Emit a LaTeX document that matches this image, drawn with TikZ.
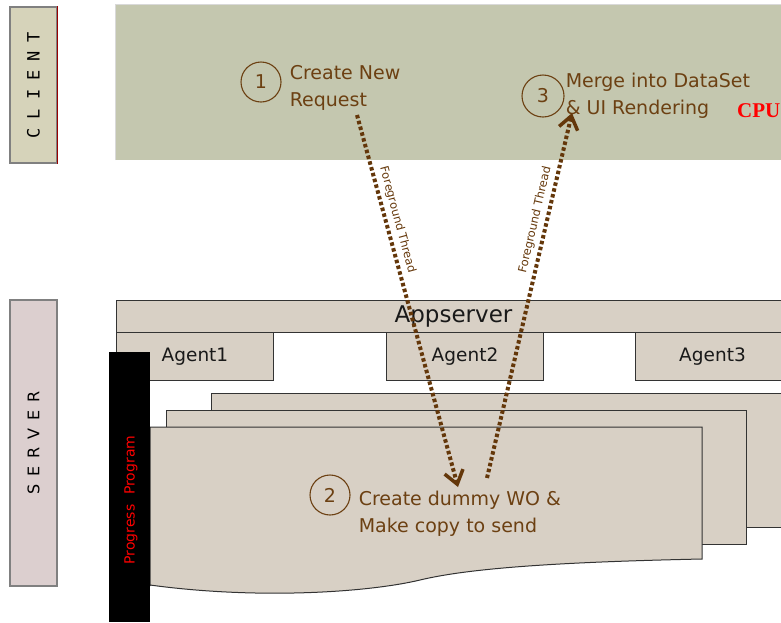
\documentclass[tikz,border=0pt]{standalone}
\usepackage{fontspec}
\setmainfont{DejaVu Sans}
\newfontfamily\clientfont[LetterSpace=53]{DejaVu Sans Mono}
\newfontfamily\serverfont[LetterSpace=50]{DejaVu Sans}
\newfontfamily\cpufont{Liberation Serif}
\usetikzlibrary{arrows.meta, positioning}

\definecolor{clientfill}{RGB}{196,199,175}
\definecolor{clientlabel}{RGB}{214,211,186}
\definecolor{serverlabel}{RGB}{220,207,207}
\definecolor{serverfill}{RGB}{216,208,197}
\definecolor{stepbrown}{RGB}{108,64,18}
\definecolor{threadbrown}{RGB}{100,55,10}

\begin{document}
\begin{tikzpicture}[
            x=1pt, y=-1pt,
            sidelabel/.style={draw=gray, line width=1.2pt, rotate=90, minimum height=47pt, inner sep=0pt},
            box/.style={draw=black!80, line width=1pt, fill=serverfill, anchor=north west, inner sep=0pt, text=black!90},
            stepcircle/.style={draw=stepbrown, line width=1.1pt, circle, minimum size=40pt, inner sep=0pt, text=stepbrown, font=\fontsize{19}{19}\selectfont},
            steptext/.style={text=stepbrown, align=left, anchor=west, inner sep=0pt, font=\fontsize{19}{27}\selectfont},
            thread/.style={draw=threadbrown, line width=4pt, dash pattern=on 3.5pt off 2.5pt, -{Straight Barb[length=13pt, width=19pt, line width=3.5pt]}},
            threadlabel/.style={sloped, above, inner sep=4pt, text=threadbrown, font=\fontsize{11.5}{12}\selectfont}
        ]

        \useasboundingbox (0,0) rectangle (781,622);

        % Client side
        \node[sidelabel, fill=clientlabel, minimum width=156pt] (client) at (33.5,85) {\fontsize{17}{17}\clientfont CLIENT};
        \draw[red!60!black, line width=1.2pt] (client.south west) -- (client.south east);
        \fill[clientfill] (115,4) rectangle (790,160);
        \draw[gray!30] (115,160) -- (115,4) -- (790,4);

        % Server side
        \node[sidelabel, fill=serverlabel, minimum width=286pt] (server) at (33.5,443) {\fontsize{16}{16}\serverfont SERVER};
        \node[box, minimum width=674pt, minimum height=32pt, font=\fontsize{23}{23}\selectfont] (appserver) at (116,300) {Appserver};
        \node[box, minimum width=157pt, minimum height=48pt, font=\fontsize{18.5}{18.5}\selectfont] (agent1) at (116,332) {Agent1};
        \node[box, minimum width=157pt, minimum height=48pt, font=\fontsize{18.5}{18.5}\selectfont] (agent2) at (386,332) {Agent2};
        \node[box, minimum width=154pt, minimum height=48pt, font=\fontsize{18.5}{18.5}\selectfont] (agent3) at (635,332) {Agent3};

        % Progress programs (stacked)
        \draw[black!80, line width=1pt, fill=serverfill] (211,393) rectangle (790,527);
        \draw[black!80, line width=1pt, fill=serverfill] (166,410) rectangle (746,544);
        \draw[black!80, line width=1pt, fill=serverfill] (150,586) -- (150,427) -- (702,427) -- (702,559)
            .. controls (560,562) and (470,568) .. (420,580)
            .. controls (370,592) and (260,600) .. (150,585);
        \fill[black] (109,352) rectangle (150,622);
        \node[rotate=90, text=red, font=\fontsize{14}{14}\selectfont] (progress) at (131,500) {Progress\hspace{10pt}Program};

        % Steps
        \node[stepcircle] (c1) at (261,82) {1};
        \node[steptext, right=8pt of c1, yshift=-6pt] (t1) {Create New\\Request};
        \node[stepcircle] (c2) at (330,495) {2};
        \node[steptext, right=8pt of c2, yshift=-19pt] (t2) {Create dummy WO \&\\Make copy to send};
        \node[stepcircle, minimum size=42pt] (c3) at (543,96) {3};
        \node[steptext, right=1pt of c3] (t3) {Merge into DataSet\\\& UI Rendering};
        \node[anchor=base west, inner sep=0pt, text=red, font=\fontsize{21}{21}\cpufont\bfseries] (cpu) at (737,117) {CPU};

        % Foreground threads
        \coordinate (reqout) at (357,115);
        \coordinate (woin) at (458,487);
        \coordinate (woout) at (487,478);
        \coordinate (mergein) at (572,113);
        \draw[thread] (reqout) -- node[threadlabel, pos=0.29] {Foreground Thread} (woin);
        \draw[thread] (woout) -- node[threadlabel, pos=0.70] {Foreground Thread} (mergein);

    \end{tikzpicture}
\end{document}
